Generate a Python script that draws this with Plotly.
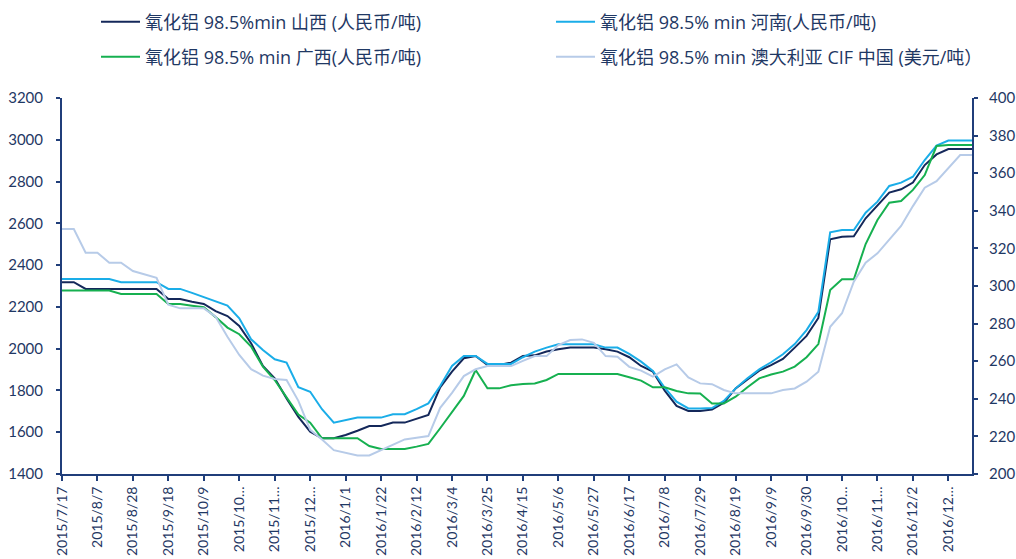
import pandas as pd
import plotly.graph_objects as go

# Weekly observation dates (categories)
dates = [d.strftime("%Y/%-m/%-d") for d in pd.date_range("2015-07-17", periods=78, freq="7D")]

tick_labels = ["2015/7/17", "2015/8/7", "2015/8/28", "2015/9/18", "2015/10/9", "2015/10…",
               "2015/11…", "2015/12…", "2016/1/1", "2016/1/22", "2016/2/12", "2016/3/4",
               "2016/3/25", "2016/4/15", "2016/5/6", "2016/5/27", "2016/6/17", "2016/7/8",
               "2016/7/29", "2016/8/19", "2016/9/9", "2016/9/30", "2016/10…", "2016/11…",
               "2016/12/2", "2016/12…"]

shanxi = [2318, 2318, 2286, 2286, 2286, 2286, 2286, 2286, 2286, 2238,
          2238, 2225, 2214, 2180, 2156, 2109, 2026, 1917, 1858, 1762,
          1673, 1603, 1571, 1571, 1587, 1607, 1630, 1630, 1646, 1646,
          1663, 1683, 1815, 1890, 1954, 1965, 1922, 1922, 1933, 1965,
          1968, 1986, 1997, 2005, 2005, 2005, 1997, 1986, 1959, 1917,
          1890, 1799, 1726, 1702, 1702, 1709, 1741, 1810, 1853, 1895,
          1921, 1951, 2005, 2061, 2147, 2524, 2536, 2538, 2624, 2685,
          2747, 2763, 2795, 2879, 2930, 2956, 2956, 2956]

henan = [2333, 2333, 2333, 2333, 2333, 2318, 2318, 2318, 2318, 2286,
         2286, 2267, 2246, 2225, 2206, 2145, 2045, 1994, 1949, 1933,
         1816, 1794, 1710, 1646, 1659, 1670, 1670, 1670, 1686, 1686,
         1711, 1738, 1821, 1917, 1965, 1965, 1927, 1927, 1927, 1959,
         1986, 2005, 2021, 2021, 2021, 2021, 2005, 2005, 1975, 1938,
         1893, 1813, 1746, 1714, 1714, 1716, 1750, 1810, 1858, 1901,
         1935, 1973, 2022, 2089, 2176, 2557, 2568, 2568, 2651, 2704,
         2779, 2795, 2823, 2903, 2972, 2996, 2996, 2996]

guangxi = [2278, 2278, 2278, 2278, 2278, 2262, 2262, 2262, 2262, 2214,
           2214, 2206, 2198, 2151, 2101, 2069, 2010, 1914, 1850, 1767,
           1685, 1646, 1571, 1571, 1571, 1571, 1534, 1520, 1520, 1520,
           1531, 1544, 1619, 1694, 1774, 1898, 1810, 1810, 1825, 1831,
           1833, 1850, 1879, 1879, 1879, 1879, 1879, 1879, 1863, 1847,
           1815, 1815, 1797, 1786, 1785, 1738, 1738, 1770, 1815, 1858,
           1876, 1890, 1914, 1959, 2022, 2281, 2332, 2332, 2501, 2616,
           2699, 2707, 2760, 2831, 2970, 2975, 2975, 2975]

cif_aus = [330.3, 330.3, 317.7, 317.7, 312.4, 312.4, 308.0, 306.2, 304.4, 290.0,
           288.1, 288.1, 288.1, 283.7, 273.0, 263.3, 255.8, 252.3, 250.5, 250.0,
           238.9, 223.5, 218.4, 212.7, 211.3, 209.9, 209.9, 212.7, 215.8, 218.4,
           219.3, 220.2, 235.2, 243.2, 252.1, 255.7, 257.4, 257.4, 257.4, 260.2,
           262.7, 262.7, 268.6, 271.3, 271.6, 269.8, 262.7, 262.4, 257.0, 255.0,
           251.8, 255.7, 258.3, 251.4, 248.2, 247.8, 244.7, 242.9, 242.9, 242.9,
           242.9, 244.7, 245.5, 249.1, 254.4, 278.3, 285.5, 302.3, 312.4, 317.4,
           324.5, 331.9, 342.5, 352.3, 355.8, 362.6, 369.7, 369.7]

names = ["氧化铝 98.5%min 山西 (人民币/吨)",
         "氧化铝 98.5% min 河南(人民币/吨)",
         "氧化铝 98.5% min 广西(人民币/吨)",
         "氧化铝 98.5% min 澳大利亚 CIF 中国 (美元/吨）"]

NAVY = "#1F3864"
AXIS = "#203E7A"
FONT = "Lato, 'Noto Sans CJK SC', sans-serif"
LEG_FONT = "'Open Sans', 'Noto Sans CJK SC', sans-serif"

fig = go.Figure()
fig.add_trace(go.Scatter(x=dates, y=shanxi, name=names[0], mode="lines",
                         line=dict(color="#14285A", width=2), legend="legend"))
fig.add_trace(go.Scatter(x=dates, y=henan, name=names[1], mode="lines",
                         line=dict(color="#1AADE8", width=2), legend="legend2"))
fig.add_trace(go.Scatter(x=dates, y=guangxi, name=names[2], mode="lines",
                         line=dict(color="#16B050", width=2), legend="legend3"))
fig.add_trace(go.Scatter(x=dates, y=cif_aus, name=names[3], mode="lines", yaxis="y2",
                         line=dict(color="#B7CBE8", width=2), legend="legend4"))


def leg(xpx, ypx):
    return dict(orientation="h", xref="container", yref="container",
                x=xpx / 1016, y=1 - ypx / 559, xanchor="left", yanchor="middle",
                font=dict(family=LEG_FONT, size=18, color=NAVY),
                bgcolor="rgba(0,0,0,0)", itemwidth=39, borderwidth=0)


tick_font = dict(family=FONT, size=15, color=NAVY)

fig.update_layout(
    width=1016, height=559,
    margin=dict(l=62, r=44, t=98, b=85, autoexpand=False),
    paper_bgcolor="white", plot_bgcolor="white",
    font=dict(family=FONT, color=NAVY),
    showlegend=True,
    legend=leg(96, 22), legend2=leg(551, 22),
    legend3=leg(96, 57), legend4=leg(551, 57),
    xaxis=dict(type="category", range=[0, len(dates) - 1],
               tickmode="array", tickvals=dates[::3], ticktext=tick_labels,
               tickangle=-90, ticks="outside", ticklen=5, tickwidth=2, tickcolor=AXIS,
               showline=True, linecolor=AXIS, linewidth=2, showgrid=False, zeroline=False,
               tickfont=dict(family=FONT, size=14, color=NAVY), ticklabelstandoff=0,
               automargin=False),
    yaxis=dict(range=[1400, 3200], dtick=200, ticks="outside", ticklen=4, tickwidth=2,
               tickcolor=AXIS, showline=True, linecolor=AXIS, linewidth=2,
               showgrid=False, zeroline=False, ticklabelstandoff=10,
               tickfont=tick_font, automargin=False),
    yaxis2=dict(range=[200, 400], dtick=20, overlaying="y", side="right",
                ticks="outside", ticklen=4, tickwidth=2, tickcolor=AXIS,
                showline=True, linecolor=AXIS, linewidth=2,
                showgrid=False, zeroline=False, ticklabelstandoff=8,
                tickfont=tick_font, automargin=False),
)

fig.write_html("out.html")
